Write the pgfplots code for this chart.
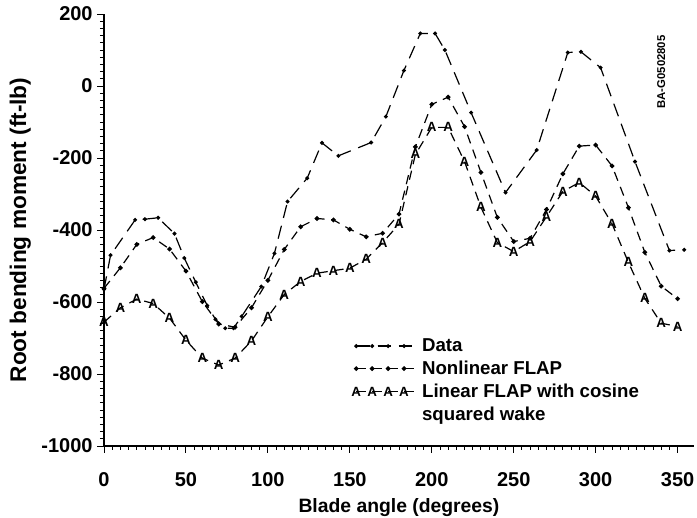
\documentclass[border=0pt]{standalone}
\usepackage{fontspec}
\setmainfont{Liberation Sans}
\usepackage{pgfplots}
\pgfplotsset{compat=1.18}
\pgfplotstableread{
x y
0 -565
4 -470
19 -372
25 -370
33 -366
43 -410
49 -478
56 -545
63 -610
68 -648
74 -673
79 -673
84 -640
96 -557
104 -465
112 -321
124 -256
133 -158
143 -194
163 -157
172 -85
183 43
193 146
202 146
208 100
224 -74
245 -296
264 -178
283 93
291 95
303 51
324 -210
345 -457
354 -455
}\datatab
\pgfplotstableread{
x y
0 -562
10 -505
20 -440
30 -421
40 -453
50 -514
60 -599
70 -661
80 -670
90 -616
100 -540
110 -454
120 -391
130 -368
140 -372
150 -398
160 -419
170 -409
180 -356
190 -169
200 -51
210 -31
220 -113
230 -240
240 -365
250 -432
260 -423
270 -343
280 -244
290 -167
300 -164
310 -222
320 -338
330 -462
340 -556
350 -591
}\nonlintab
\pgfplotstableread{
x y
0 -656
10 -616
20 -592
30 -604
40 -645
50 -706
60 -756
70 -775
80 -756
90 -708
100 -641
110 -579
120 -543
130 -520
140 -513
150 -506
160 -481
170 -435
180 -384
190 -190
200 -115
210 -115
220 -210
230 -337
240 -435
250 -460
260 -432
270 -363
280 -293
290 -268
300 -306
310 -383
320 -490
330 -590
340 -659
350 -668
}\lintab
\begin{document}
\begin{tikzpicture}
\begin{axis}[
  name=ax,
  scale only axis,
  width=442.5pt, height=324pt,
  xmin=0, xmax=360, ymin=-1000, ymax=200,
  xtick={0,50,...,350}, ytick={-1000,-800,...,200},
  minor x tick num=9, minor y tick num=9,
  axis x line=bottom, axis y line=left,
  axis line style={-, line width=0.9pt},
  tick align=outside,
  major tick length=5pt, minor tick length=3pt,
  tick style={black, line width=0.7pt},
  /pgf/number format/assume math mode=true,
  /pgf/number format/1000 sep={},
  ticklabel style={font=\fontsize{15}{17}\selectfont\bfseries},
  xticklabel style={yshift=-11pt},
  xlabel={Blade angle (degrees)},
  ylabel={Root bending moment (ft-lb)},
  xlabel style={font=\fontsize{14.5}{16}\selectfont\bfseries, yshift=-2pt},
  ylabel style={font=\fontsize{17}{18}\selectfont\bfseries, yshift=1pt},
  legend style={at={(axis cs:150,-690)}, anchor=north west, draw=none, fill=none,
    font=\fontsize{14}{15}\selectfont\bfseries, row sep=1.5pt, inner sep=1pt},
  legend cell align=left,
  legend image code/.code={\draw[mark repeat=1,mark phase=1,#1] plot coordinates {(0cm,0cm) (0.42cm,0cm) (0.84cm,0cm) (1.26cm,0cm)};
    \path (0cm,0cm) -- (1.65cm,0cm);},
]
\addplot[black, line width=0.9pt, dash pattern=on 10pt off 6pt, mark=*, mark size=1pt, mark options={solid}] table {\datatab};
\addlegendentry{Data}
\addplot[black, line width=0.9pt, dash pattern=on 7pt off 5pt, mark=*, mark size=1.3pt, mark options={solid}] table {\nonlintab};
\addlegendentry{Nonlinear FLAP}
\addplot[black, line width=0.9pt, dash pattern=on 7pt off 5pt, mark=text, text mark={\fontsize{10}{10}\selectfont\bfseries A}, mark options={solid}] table {\lintab};
\addlegendentry{Linear FLAP with cosine}
\addlegendimage{empty legend}
\addlegendentry{squared wake}
\node[rotate=90, font=\fontsize{8.5}{9}\selectfont\bfseries] at (axis cs:340,39) {BA-G0502805};
\end{axis}
\pgfresetboundingbox
\path (ax.south west) ++(-78pt,-54pt) rectangle ++(522.75pt,388.5pt);
\end{tikzpicture}
\end{document}
